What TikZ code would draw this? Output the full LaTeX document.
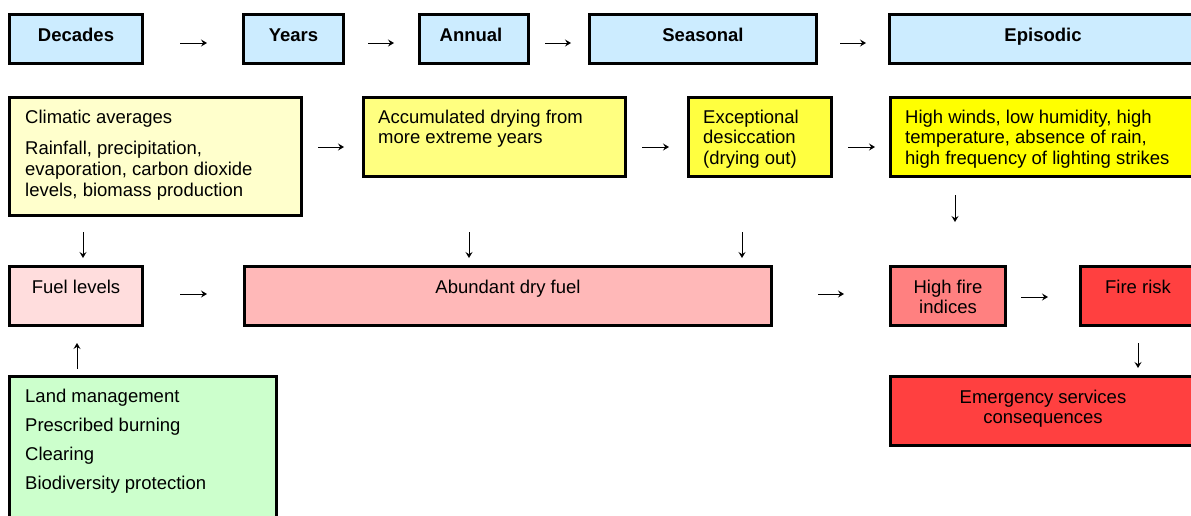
\documentclass[tikz,border=0pt]{standalone}
\usepackage{fontspec}
\setmainfont{Liberation Sans}
\usetikzlibrary{arrows.meta}

\definecolor{skyfill}{HTML}{CCECFF}
\definecolor{creamfill}{HTML}{FFFFCC}
\definecolor{paleyellow}{HTML}{FFFF80}
\definecolor{midyellow}{HTML}{FFFF40}
\definecolor{yellowfill}{HTML}{FFFF00}
\definecolor{blushfill}{HTML}{FFDDDD}
\definecolor{pinkfill}{HTML}{FFB8B8}
\definecolor{salmonfill}{HTML}{FF8080}
\definecolor{redfill}{HTML}{FF4040}
\definecolor{mintfill}{HTML}{CCFFCC}

\tikzset{
  boxnode/.style={draw=black, line width=2.7pt, inner sep=0pt},
  txt/.style={inner sep=0pt, font=\fontsize{18.5}{20.7}\selectfont, text=black},
  title/.style={txt, font=\fontsize{18.5}{20.7}\selectfont\bfseries},
  glyph/.style={line width=0.9pt, -{Stealth[length=6pt,width=7pt,inset=2.2pt]}},
}

% \panel{name}{left}{top}{right}{bottom}{fill}: outer edges of a framed box
\newcommand{\panel}[6]{%
  \node[boxnode, fill=#6, anchor=north west,
        minimum width={(#4)-(#2)-2.7}, minimum height={(#5)-(#3)-2.7}]
        (#1) at (#2,#3) {};}

\begin{document}
\begin{tikzpicture}[x=1pt, y=-1pt]
\useasboundingbox (0,0) rectangle (1191,515);
\clip (0,0) rectangle (1191,515);

% time scales
\panel{decades}{8}{13}{144}{65}{skyfill}
\panel{years}{242}{13}{345}{65}{skyfill}
\panel{annual}{418}{13}{530}{65}{skyfill}
\panel{seasonal}{588}{13}{818}{65}{skyfill}
\panel{episodic}{888}{13}{1198}{65}{skyfill}

% climate drivers
\panel{climate}{8}{96}{303}{217}{creamfill}
\panel{accum}{362}{96}{627}{178}{paleyellow}
\panel{desicc}{687}{96}{833}{178}{midyellow}
\panel{weather}{889}{96}{1198}{178}{yellowfill}

% fuel and fire
\panel{fuel}{8}{265}{144}{327}{blushfill}
\panel{dryfuel}{243}{265}{773}{327}{pinkfill}
\panel{indices}{889}{265}{1007}{327}{salmonfill}
\panel{risk}{1079}{265}{1198}{327}{redfill}

% management and consequences
\panel{landmgmt}{8}{375}{278}{530}{mintfill}
\panel{emergency}{889}{375}{1198}{447}{redfill}

% labels
\node[title, anchor=base] (decades-t) at (76,41.5) {Decades};
\node[title, anchor=base] (years-t) at (293.5,41.5) {Years};
\node[title, anchor=base] (annual-t) at (471,41.5) {Annual};
\node[title, anchor=base] (seasonal-t) at (703,41.5) {Seasonal};
\node[title, anchor=base] (episodic-t) at (1043,41.5) {Episodic};

\node[txt, anchor=north west, align=left] (climate-t) at (25,109.5)
  {Climatic averages\\[11pt]Rainfall, precipitation,\\evaporation, carbon dioxide\\levels, biomass production};
\node[txt, anchor=north west, align=left] (accum-t) at (378,109.5)
  {Accumulated drying from\\more extreme years};
\node[txt, anchor=north west, align=left] (desicc-t) at (703,109.5)
  {Exceptional\\desiccation\\(drying out)};
\node[txt, anchor=north west, align=left] (weather-t) at (905,109.5)
  {High winds, low humidity, high\\temperature, absence of rain,\\high frequency of lighting strikes};

\node[txt, anchor=base] (fuel-t) at (76,293) {Fuel levels};
\node[txt, anchor=base] (dryfuel-t) at (508,293) {Abundant dry fuel};
\node[txt, anchor=north, align=center] (indices-t) at (948,279.5) {High fire\\indices};
\node[txt, anchor=base] (risk-t) at (1138,293) {Fire risk};

\node[txt, anchor=north west, align=left] (landmgmt-t) at (25,388.5)
  {Land management\\[8.5pt]Prescribed burning\\[8.5pt]Clearing\\[8.5pt]Biodiversity protection};
\node[txt, anchor=north, align=center] (emergency-t) at (1043,389.5)
  {Emergency services\\consequences};

% rows and columns of the short arrows
\coordinate (rowA) at (0,43);
\coordinate (rowB) at (0,147);
\coordinate (rowC) at (0,294);
\coordinate (rowD) at (0,297);
\coordinate (colA) at (83,0);
\coordinate (colB) at (469,0);
\coordinate (colC) at (742,0);
\coordinate (colD) at (955,0);
\coordinate (colE) at (1138,0);
\coordinate (colF) at (77,0);

\draw[glyph, shorten <=36pt, shorten >=35pt] (decades.east |- rowA) -- (years.west |- rowA);
\draw[glyph, shorten <=23pt, shorten >=24pt] (years.east |- rowA) -- (annual.west |- rowA);
\draw[glyph, shorten <=15pt, shorten >=17pt] (annual.east |- rowA) -- (seasonal.west |- rowA);
\draw[glyph, shorten <=22pt, shorten >=22pt] (seasonal.east |- rowA) -- (episodic.west |- rowA);

\draw[glyph, shorten <=15pt, shorten >=18pt] (climate.east |- rowB) -- (accum.west |- rowB);
\draw[glyph, shorten <=15pt, shorten >=18pt] (accum.east |- rowB) -- (desicc.west |- rowB);
\draw[glyph, shorten <=15pt, shorten >=14pt] (desicc.east |- rowB) -- (weather.west |- rowB);

\draw[glyph, shorten <=17pt, shorten >=43pt] (weather.south -| colD) -- (indices.north -| colD);
\draw[glyph, shorten <=15pt, shorten >=7pt] (climate.south -| colA) -- (fuel.north -| colA);
\draw[glyph, shorten <=54pt, shorten >=7pt] (accum.south -| colB) -- (dryfuel.north -| colB);
\draw[glyph, shorten <=54pt, shorten >=7pt] (desicc.south -| colC) -- (dryfuel.north -| colC);

\draw[glyph, shorten <=36pt, shorten >=36pt] (fuel.east |- rowC) -- (dryfuel.west |- rowC);
\draw[glyph, shorten <=45pt, shorten >=45pt] (dryfuel.east |- rowC) -- (indices.west |- rowC);
\draw[glyph, shorten <=14pt, shorten >=31pt] (indices.east |- rowD) -- (risk.west |- rowD);

\draw[glyph, shorten <=16pt, shorten >=7pt] (risk.south -| colE) -- (emergency.north -| colE);
\draw[glyph, shorten <=6pt, shorten >=16pt] (landmgmt.north -| colF) -- (fuel.south -| colF);
\end{tikzpicture}
\end{document}
